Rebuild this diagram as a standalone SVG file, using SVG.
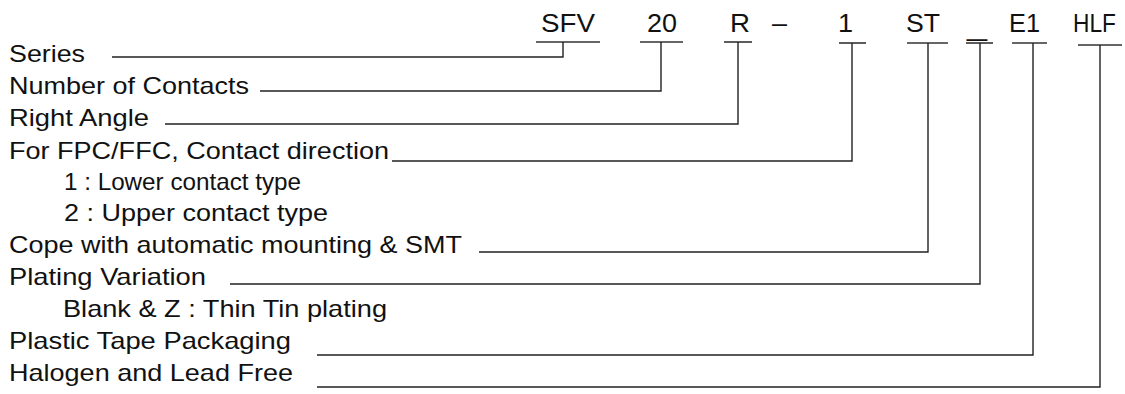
<svg xmlns="http://www.w3.org/2000/svg" width="1125" height="394" viewBox="0 0 1125 394">
<style>
text{font-family:"Liberation Sans",Arial,sans-serif;fill:#111}
.lbl{font-size:24px}
.code{font-size:25px}
.ul{stroke:#333;stroke-width:1.6;fill:none}
.conn{stroke:#222;stroke-width:1.4;fill:none}
</style>
<rect width="1125" height="394" fill="#fff"/>
<g id="code-SFV"><text class="code" x="541" y="32" textLength="54" lengthAdjust="spacingAndGlyphs">SFV</text><line class="ul" x1="536" y1="42" x2="600" y2="42"/></g>
<g id="code-20"><text class="code" x="647" y="32" textLength="30" lengthAdjust="spacingAndGlyphs">20</text><line class="ul" x1="640" y1="42" x2="683" y2="42"/></g>
<g id="code-R"><text class="code" x="730" y="32" textLength="20" lengthAdjust="spacingAndGlyphs">R</text><line class="ul" x1="724" y1="42" x2="752" y2="42"/></g>
<g id="code-dash"><text class="code" x="772" y="32" textLength="15" lengthAdjust="spacingAndGlyphs">–</text></g>
<g id="code-1"><text class="code" x="838" y="32" textLength="15" lengthAdjust="spacingAndGlyphs">1</text><line class="ul" x1="839" y1="43" x2="866" y2="43"/></g>
<g id="code-ST"><text class="code" x="906" y="32" textLength="34" lengthAdjust="spacingAndGlyphs">ST</text><line class="ul" x1="907" y1="43" x2="948" y2="43"/></g>
<g id="code-blank"><text class="code" x="967" y="36" textLength="20" lengthAdjust="spacingAndGlyphs">_</text><line class="ul" x1="966" y1="43" x2="993" y2="43"/></g>
<g id="code-E1"><text class="code" x="1009" y="32" textLength="31" lengthAdjust="spacingAndGlyphs">E1</text><line class="ul" x1="1012" y1="43" x2="1047" y2="43"/></g>
<g id="code-HLF"><text class="code" x="1073" y="32" textLength="43" lengthAdjust="spacingAndGlyphs">HLF</text><line class="ul" x1="1078" y1="45" x2="1122" y2="45"/></g>

<g id="label-series"><text class="lbl" x="9" y="62" textLength="76" lengthAdjust="spacingAndGlyphs">Series</text></g>
<g id="label-contacts"><text class="lbl" x="9" y="94" textLength="240" lengthAdjust="spacingAndGlyphs">Number of Contacts</text></g>
<g id="label-angle"><text class="lbl" x="9" y="126" textLength="140" lengthAdjust="spacingAndGlyphs">Right Angle</text></g>
<g id="label-direction"><text class="lbl" x="9" y="159" textLength="380" lengthAdjust="spacingAndGlyphs">For FPC/FFC, Contact direction</text>
<text class="lbl" x="64" y="190" textLength="237" lengthAdjust="spacingAndGlyphs">1 : Lower contact type</text>
<text class="lbl" x="64" y="221" textLength="264" lengthAdjust="spacingAndGlyphs">2 : Upper contact type</text></g>
<g id="label-smt"><text class="lbl" x="9" y="253" textLength="453" lengthAdjust="spacingAndGlyphs">Cope with automatic mounting &amp; SMT</text></g>
<g id="label-plating"><text class="lbl" x="9" y="285" textLength="197" lengthAdjust="spacingAndGlyphs">Plating Variation</text>
<text class="lbl" x="63" y="317" textLength="324" lengthAdjust="spacingAndGlyphs">Blank &amp; Z : Thin Tin plating</text></g>
<g id="label-tape"><text class="lbl" x="9" y="349" textLength="282" lengthAdjust="spacingAndGlyphs">Plastic Tape Packaging</text></g>
<g id="label-halogen"><text class="lbl" x="9" y="381" textLength="284" lengthAdjust="spacingAndGlyphs">Halogen and Lead Free</text></g>

<g id="connectors">
<polyline class="conn" points="112,57 563,57 563,42"/>
<polyline class="conn" points="260,91 661,91 661,42"/>
<polyline class="conn" points="165,124 738,124 738,42"/>
<polyline class="conn" points="392,161 852,161 852,43"/>
<polyline class="conn" points="479,252 928,252 928,43"/>
<polyline class="conn" points="230,284 980,284 980,43"/>
<polyline class="conn" points="317,355 1033,355 1033,43"/>
<polyline class="conn" points="317,387 1100,387 1100,45"/>
</g>
</svg>
